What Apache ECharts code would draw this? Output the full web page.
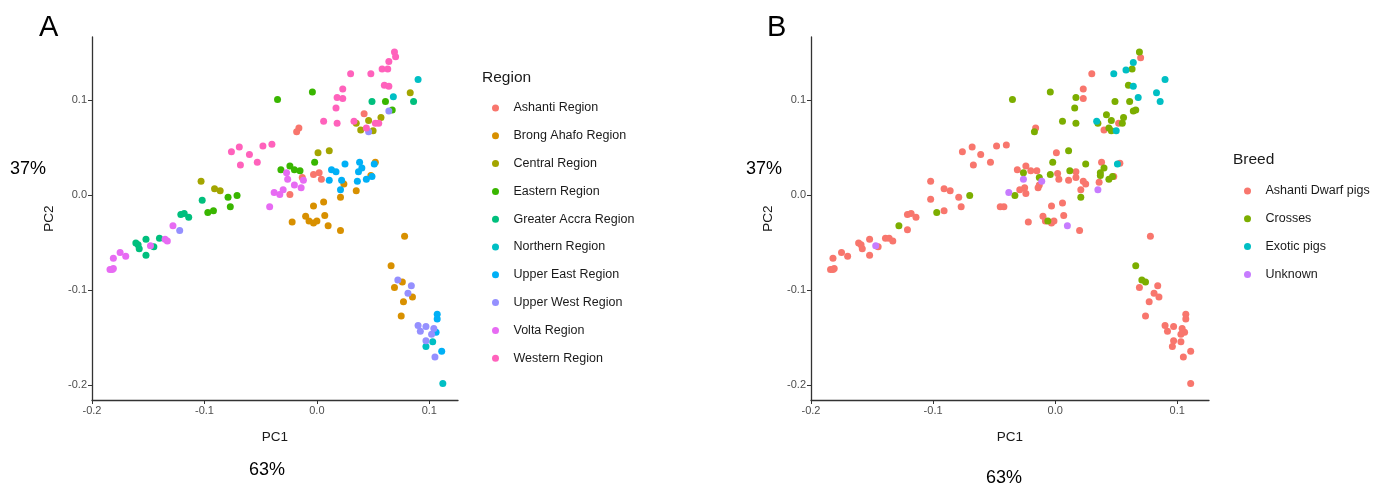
<!DOCTYPE html>
<html>
<head>
<meta charset="utf-8">
<script src="https://cdn.jsdelivr.net/npm/echarts@6/dist/echarts.min.js"></script>
<style>
  html, body { margin: 0; padding: 0; background: #fff; }
  #chart { width: 1390px; height: 485px; }
</style>
</head>
<body>
<div id="chart"></div>
<script>
// PCA scores, panel A coloured by region, panel B by breed
var xTicks = [-0.2, -0.1, 0.0, 0.1];
var yTicks = [-0.2, -0.1, 0.0, 0.1];

var regionNames = ['Ashanti Region', 'Brong Ahafo Region', 'Central Region', 'Eastern Region',
  'Greater Accra Region', 'Northern Region', 'Upper East Region', 'Upper West Region',
  'Volta Region', 'Western Region'];
var regionColors = ['#F8766D', '#D89000', '#A3A500', '#39B600', '#00BF7D',
  '#00BFC4', '#00B0F6', '#9590FF', '#E76BF3', '#FF62BC'];

var ashantiRegion = [[0.042, 0.086], [-0.016, 0.071], [-0.018, 0.067], [-0.003, 0.022], [0.002, 0.024],
  [0.004, 0.017], [-0.013, 0.019], [-0.024, 0.001]];
var brongAhafo = [[0.052, 0.035], [0.048, 0.021], [0.024, 0.012], [0.035, 0.005], [0.021, -0.002],
  [0.006, -0.007], [-0.003, -0.011], [-0.010, -0.022], [-0.007, -0.027], [-0.003, -0.029],
  [0.000, -0.027], [-0.022, -0.028], [0.007, -0.021], [0.010, -0.032], [0.021, -0.037],
  [0.078, -0.043], [0.066, -0.074], [0.076, -0.091], [0.069, -0.097], [0.085, -0.107],
  [0.077, -0.112], [0.075, -0.127]];
var central = [[-0.103, 0.015], [-0.091, 0.007], [-0.086, 0.005], [0.083, 0.108], [0.057, 0.082],
  [0.046, 0.079], [0.035, 0.076], [0.039, 0.069], [0.050, 0.068], [0.001, 0.045], [0.011, 0.047]];
var eastern = [[-0.079, -0.002], [-0.071, 0.000], [-0.077, -0.012], [-0.097, -0.018], [-0.092, -0.016],
  [-0.035, 0.101], [-0.004, 0.109], [0.061, 0.099], [0.067, 0.090], [-0.002, 0.035],
  [-0.032, 0.027], [-0.024, 0.031], [-0.020, 0.027], [-0.015, 0.026]];
var greaterAccra = [[-0.102, -0.005], [-0.121, -0.020], [-0.118, -0.019], [-0.114, -0.023],
  [-0.161, -0.050], [-0.159, -0.052], [-0.158, -0.056], [-0.152, -0.046], [-0.152, -0.063],
  [-0.145, -0.054], [-0.140, -0.045], [0.049, 0.099], [0.086, 0.099]];
var northern = [[0.090, 0.122], [0.068, 0.104], [0.097, -0.159], [0.103, -0.154], [0.112, -0.198]];
var upperEast = [[0.013, 0.027], [0.017, 0.025], [0.011, 0.016], [0.022, 0.016], [0.025, 0.033],
  [0.038, 0.035], [0.037, 0.025], [0.036, 0.015], [0.040, 0.029], [0.044, 0.017], [0.049, 0.020],
  [0.051, 0.033], [0.021, 0.006], [0.107, -0.125], [0.107, -0.130], [0.106, -0.144], [0.111, -0.164]];
var upperWest = [[-0.122, -0.037], [0.064, 0.089], [0.046, 0.067], [0.072, -0.089], [0.084, -0.095],
  [0.081, -0.103], [0.090, -0.137], [0.092, -0.143], [0.097, -0.138], [0.104, -0.140],
  [0.102, -0.146], [0.097, -0.153], [0.105, -0.170]];
var volta = [[-0.184, -0.078], [-0.182, -0.078], [-0.181, -0.077], [-0.181, -0.066], [-0.175, -0.060],
  [-0.170, -0.064], [-0.148, -0.053], [-0.135, -0.046], [-0.133, -0.048], [-0.128, -0.032],
  [-0.042, -0.012], [-0.027, 0.024], [-0.026, 0.017], [-0.012, 0.016], [-0.020, 0.011],
  [-0.030, 0.006], [-0.038, 0.003], [-0.033, 0.001], [-0.014, 0.008]];
var western = [[-0.076, 0.046], [-0.069, 0.051], [-0.060, 0.043], [-0.068, 0.032], [-0.053, 0.035],
  [-0.048, 0.052], [-0.040, 0.054], [0.069, 0.151], [0.070, 0.146], [0.064, 0.141], [0.058, 0.133],
  [0.063, 0.133], [0.048, 0.128], [0.030, 0.128], [0.023, 0.112], [0.018, 0.103], [0.023, 0.102],
  [0.017, 0.092], [0.006, 0.078], [0.018, 0.076], [0.033, 0.078], [0.044, 0.071], [0.052, 0.076],
  [0.055, 0.076], [0.060, 0.116], [0.064, 0.115]];

var breedNames = ['Ashanti Dwarf pigs', 'Crosses', 'Exotic pigs', 'Unknown'];
var breedColors = ['#F8766D', '#7CAE00', '#00BFC4', '#C77CFF'];

var ashantiDwarf = [[-0.076, 0.046], [-0.068, 0.051], [-0.061, 0.043], [-0.067, 0.032], [-0.053, 0.035],
  [-0.048, 0.052], [-0.040, 0.053], [-0.102, 0.015], [-0.102, -0.004], [-0.091, 0.007],
  [-0.086, 0.005], [-0.079, -0.002], [-0.091, -0.016], [-0.077, -0.012], [-0.121, -0.020],
  [-0.118, -0.019], [-0.114, -0.023], [-0.121, -0.036], [-0.045, -0.012], [-0.184, -0.078],
  [-0.182, -0.078], [-0.181, -0.077], [-0.182, -0.066], [-0.175, -0.060], [-0.170, -0.064],
  [-0.161, -0.050], [-0.159, -0.052], [-0.158, -0.056], [-0.152, -0.046], [-0.152, -0.063],
  [-0.145, -0.054], [-0.139, -0.045], [-0.136, -0.045], [-0.133, -0.048], [0.070, 0.145],
  [0.030, 0.128], [0.023, 0.112], [0.023, 0.102], [-0.016, 0.071], [0.052, 0.076], [0.040, 0.069],
  [0.001, 0.045], [-0.024, 0.031], [-0.020, 0.026], [-0.031, 0.027], [-0.015, 0.026],
  [-0.025, 0.008], [-0.029, 0.006], [-0.024, 0.002], [-0.014, 0.008], [-0.013, 0.011],
  [0.002, 0.023], [0.003, 0.017], [0.011, 0.016], [0.017, 0.025], [0.017, 0.019], [0.023, 0.015],
  [0.025, 0.012], [0.021, 0.006], [0.038, 0.035], [0.036, 0.014], [0.048, 0.020], [0.053, 0.034],
  [-0.042, -0.012], [-0.003, -0.011], [0.006, -0.008], [-0.010, -0.022], [-0.008, -0.027],
  [-0.003, -0.029], [-0.001, -0.027], [-0.022, -0.028], [0.007, -0.021], [0.020, -0.037],
  [0.078, -0.043], [0.069, -0.097], [0.084, -0.095], [0.081, -0.103], [0.085, -0.107],
  [0.077, -0.112], [0.074, -0.127], [0.107, -0.125], [0.107, -0.130], [0.090, -0.137],
  [0.092, -0.143], [0.097, -0.138], [0.104, -0.140], [0.106, -0.144], [0.103, -0.146],
  [0.097, -0.153], [0.096, -0.159], [0.103, -0.154], [0.111, -0.164], [0.105, -0.170],
  [0.111, -0.198]];
var crosses = [[-0.070, 0.000], [-0.097, -0.018], [-0.128, -0.032], [0.069, 0.151], [0.063, 0.133],
  [0.060, 0.116], [0.049, 0.099], [0.061, 0.099], [0.064, 0.089], [0.066, 0.090], [0.042, 0.085],
  [0.046, 0.079], [0.056, 0.082], [0.055, 0.076], [0.044, 0.071], [0.046, 0.068], [0.035, 0.076],
  [0.017, 0.103], [0.016, 0.092], [0.006, 0.078], [0.017, 0.076], [-0.004, 0.109], [-0.035, 0.101],
  [-0.017, 0.067], [0.011, 0.047], [-0.002, 0.035], [0.025, 0.033], [-0.004, 0.022], [0.012, 0.026],
  [0.037, 0.024], [0.037, 0.021], [0.040, 0.029], [0.044, 0.017], [0.047, 0.020], [-0.026, 0.024],
  [-0.013, 0.019], [-0.033, 0.000], [0.021, -0.002], [-0.006, -0.027], [0.066, -0.074],
  [0.071, -0.089], [0.074, -0.091]];
var exotic = [[0.064, 0.140], [0.058, 0.132], [0.048, 0.128], [0.064, 0.115], [0.068, 0.103],
  [0.083, 0.108], [0.086, 0.099], [0.090, 0.122], [0.034, 0.078], [0.050, 0.068], [0.051, 0.033]];
var unknown = [[-0.147, -0.053], [-0.026, 0.017], [-0.011, 0.015], [-0.038, 0.003], [0.035, 0.006],
  [0.010, -0.032]];

var regionData = [ashantiRegion, brongAhafo, central, eastern, greaterAccra, northern,
  upperEast, upperWest, volta, western];
var breedData = [ashantiDwarf, crosses, exotic, unknown];

var FONT = '"Liberation Sans", Arial, sans-serif';

function makeX(idx, min, max) {
  return {
    type: 'value', gridIndex: idx, min: min, max: max,
    name: 'PC1', nameLocation: 'middle', nameGap: 30,
    nameTextStyle: { color: '#1a1a1a', fontSize: 13.5, fontFamily: FONT },
    splitLine: { show: false },
    axisLine: { onZero: false, lineStyle: { color: '#333', width: 1.3 } },
    axisTick: { show: true, length: 4, customValues: xTicks, lineStyle: { color: '#333' } },
    axisLabel: { customValues: xTicks, color: '#4d4d4d', fontSize: 11, fontFamily: FONT, margin: 5,
      formatter: function (v) { return v.toFixed(1); } }
  };
}
function makeY(idx) {
  return {
    type: 'value', gridIndex: idx, min: -0.2153, max: 0.1668,
    name: 'PC2', nameLocation: 'middle', nameGap: 36, nameRotate: 90,
    nameTextStyle: { color: '#1a1a1a', fontSize: 13.5, fontFamily: FONT },
    splitLine: { show: false },
    axisLine: { onZero: false, lineStyle: { color: '#333', width: 1.3 } },
    axisTick: { show: true, length: 4, customValues: yTicks, lineStyle: { color: '#333' } },
    axisLabel: { customValues: yTicks, color: '#4d4d4d', fontSize: 11, fontFamily: FONT, margin: 5,
      formatter: function (v) { return v.toFixed(1); } }
  };
}

var series = [];
regionNames.forEach(function (name, i) {
  series.push({ type: 'scatter', name: name, xAxisIndex: 0, yAxisIndex: 0,
    data: regionData[i], symbolSize: 7, itemStyle: { color: regionColors[i], opacity: 1 } });
});
breedNames.forEach(function (name, i) {
  series.push({ type: 'scatter', name: name, xAxisIndex: 1, yAxisIndex: 1,
    data: breedData[i], symbolSize: 7, itemStyle: { color: breedColors[i], opacity: 1 } });
});

var legendBase = {
  orient: 'vertical', icon: 'circle', itemWidth: 26, itemHeight: 7,
  textStyle: { color: '#1a1a1a', fontSize: 12.5, fontFamily: FONT, lineHeight: 14 },
  itemGap: 13.8, selectedMode: false
};

var chart = echarts.init(document.getElementById('chart'), null, { renderer: 'canvas' });
chart.setOption({
  backgroundColor: '#ffffff',
  animation: false,
  grid: [
    { left: 92, top: 37, width: 366, height: 363 },
    { left: 811, top: 37, width: 398, height: 363 }
  ],
  xAxis: [makeX(0, -0.2, 0.1255), makeX(1, -0.2, 0.126)],
  yAxis: [makeY(0), makeY(1)],
  legend: [
    Object.assign({}, legendBase, { data: regionNames, left: 487, top: 96 }),
    Object.assign({}, legendBase, { data: breedNames, left: 1239, top: 179 })
  ],
  graphic: [
    { type: 'text', left: 39, top: 13, style: { text: 'A', fill: '#000', font: '29px ' + FONT } },
    { type: 'text', left: 767, top: 13, style: { text: 'B', fill: '#000', font: '29px ' + FONT } },
    { type: 'text', left: 10, top: 160, style: { text: '37%', fill: '#000', font: '18px ' + FONT } },
    { type: 'text', left: 249, top: 461, style: { text: '63%', fill: '#000', font: '18px ' + FONT } },
    { type: 'text', left: 746, top: 160, style: { text: '37%', fill: '#000', font: '18px ' + FONT } },
    { type: 'text', left: 986, top: 469, style: { text: '63%', fill: '#000', font: '18px ' + FONT } },
    { type: 'text', left: 482, top: 70, style: { text: 'Region', fill: '#1a1a1a', font: '15.5px ' + FONT } },
    { type: 'text', left: 1233, top: 152, style: { text: 'Breed', fill: '#1a1a1a', font: '15.5px ' + FONT } }
  ],
  series: series
});
window.addEventListener('resize', function () { chart.resize(); });
</script>
</body>
</html>
